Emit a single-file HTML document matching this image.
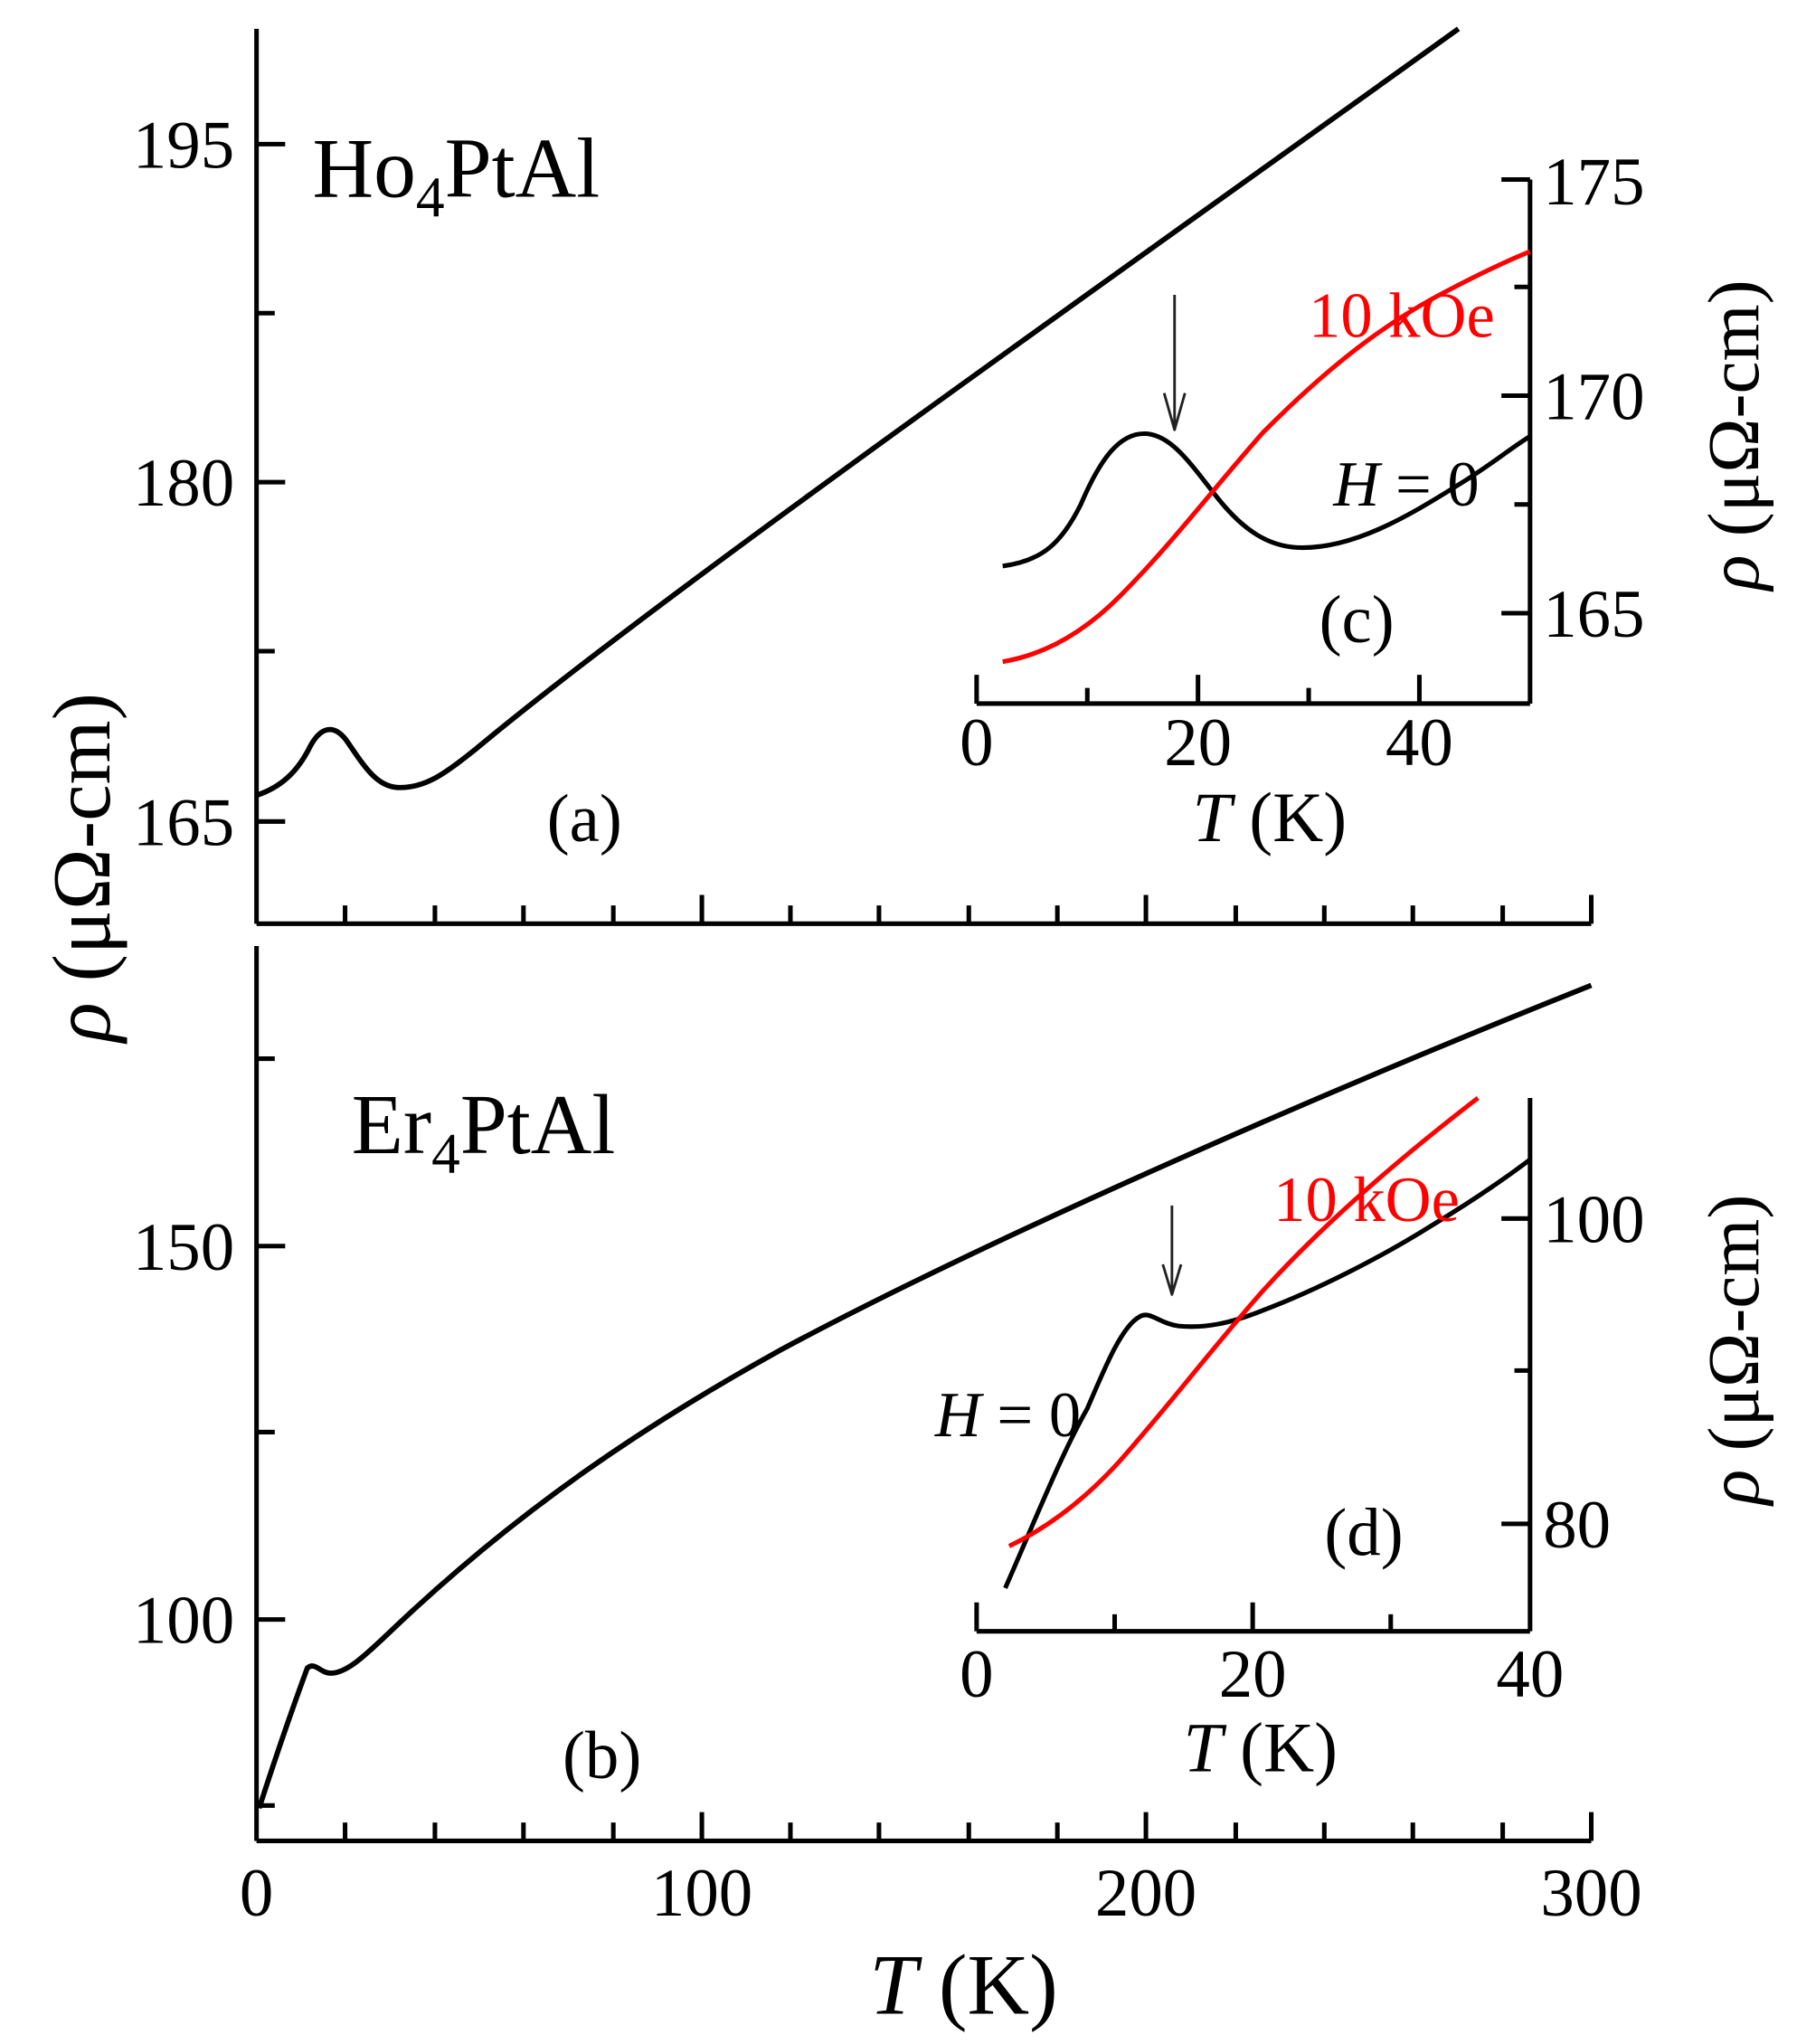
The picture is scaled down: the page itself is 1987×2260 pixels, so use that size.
<!DOCTYPE html>
<html><head><meta charset="utf-8"><style>
html,body{margin:0;padding:0;background:#fff;}
svg{display:block;}
text{font-family:"Liberation Serif","DejaVu Serif",serif;}
</style></head><body>
<svg width="1987" height="2260" viewBox="0 0 1380 1560" preserveAspectRatio="none" xmlns="http://www.w3.org/2000/svg">
<g stroke="#000" stroke-width="3.5" fill="none" stroke-linejoin="round">
<line x1="197" y1="22" x2="197" y2="705"/>
<line x1="197" y1="705" x2="1222" y2="705"/>
<line x1="1222" y1="683" x2="1222" y2="705"/>
<line x1="197" y1="722" x2="197" y2="1405"/>
<line x1="197" y1="1405" x2="1222" y2="1405"/>
<line x1="1222" y1="1383" x2="1222" y2="1405"/>
<path d="M197 110H219M197 239H211M197 368H219M197 497H211M197 627H219"/>
<path d="M197 808H211M197 951H219M197 1093H211M197 1236H219M197 1378H211"/>
<path d="M539 705V683M880 705V683M265 705V691M334 705V691M402 705V691M471 705V691M607 705V691M675 705V691M744 705V691M812 705V691M949 705V691M1017 705V691M1085 705V691M1154 705V691"/>
<path d="M539 1405V1383M880 1405V1383M265 1405V1391M334 1405V1391M402 1405V1391M471 1405V1391M607 1405V1391M675 1405V1391M744 1405V1391M812 1405V1391M949 1405V1391M1017 1405V1391M1085 1405V1391M1154 1405V1391"/>
<path stroke-width="4" d="M197 607 C215 601 228 590 238 570 C246 555 256 552 266 565 C278 582 288 600 305 601 C325 602 340 592 365 572 C500 460 800 250 1120 22"/>
<path stroke-width="4" d="M199 1380 C212 1340 226 1300 236 1273 C242 1268 246 1277 254 1277 C266 1277 280 1264 300 1245 C400 1150 500 1085 600 1030 C750 950 1000 840 1222 752"/>
<line x1="750" y1="537" x2="1175" y2="537"/>
<line x1="1175" y1="137" x2="1175" y2="537"/>
<path d="M750 537V515M920 537V515M1090 537V515M835 537V525M1005 537V525M1175 137H1153M1175 302H1153M1175 468H1153M1175 219H1163M1175 385H1163"/>
<path stroke-width="3.5" d="M770 432 C800 428 815 415 830 385 C845 350 860 330 880 331 C900 332 915 355 935 380 C955 405 975 418 1000 418 C1040 418 1080 395 1120 370 C1145 355 1160 342 1175 333"/>
<path stroke="#f00" stroke-width="3.5" d="M770 505 C800 500 830 485 860 455 C900 415 930 375 970 330 C1020 280 1060 250 1100 228 C1130 212 1155 200 1175 192"/>
<path stroke="#222" stroke-width="2" d="M902 225V328M894 300L902 328L910 300"/>
<line x1="750" y1="1245" x2="1175" y2="1245"/>
<line x1="1175" y1="838" x2="1175" y2="1245"/>
<path d="M750 1245V1223M962 1245V1223M856 1245V1232M1068 1245V1232M1175 930H1153M1175 1163H1153M1175 1046H1163"/>
<path stroke-width="3.5" d="M772 1212 C795 1160 815 1110 835 1075 C850 1040 862 1012 875 1005 C883 1000 890 1010 905 1012 C925 1014 945 1010 970 1000 C1010 985 1060 960 1100 935 C1130 917 1155 900 1175 885"/>
<path stroke="#f00" stroke-width="3.5" d="M775 1180 C800 1168 830 1148 860 1115 C900 1070 930 1030 970 985 C1020 930 1080 880 1135 838"/>
<path stroke="#222" stroke-width="2" d="M900 920V988M893 965L900 988L907 965"/>
</g>
<g font-size="52" fill="#000">
<text x="180" y="128" text-anchor="end">195</text>
<text x="180" y="386" text-anchor="end">180</text>
<text x="180" y="645" text-anchor="end">165</text>
<text x="180" y="969" text-anchor="end">150</text>
<text x="180" y="1254" text-anchor="end">100</text>
<text x="197" y="1462" text-anchor="middle">0</text>
<text x="539" y="1462" text-anchor="middle">100</text>
<text x="880" y="1462" text-anchor="middle">200</text>
<text x="1222" y="1462" text-anchor="middle">300</text>
<text x="740" y="1537" text-anchor="middle" font-size="66"><tspan font-style="italic">T</tspan> (K)</text>
<text x="240" y="150" font-size="65">Ho<tspan font-size="44" dy="15">4</tspan><tspan dy="-15">PtAl</tspan></text>
<text x="270" y="880" font-size="65">Er<tspan font-size="44" dy="15">4</tspan><tspan dy="-15">PtAl</tspan></text>
<text x="420" y="642" font-size="52">(a)</text>
<text x="432" y="1357" font-size="52">(b)</text>
<text transform="translate(84 662) rotate(-90)" text-anchor="middle" font-size="63"><tspan font-style="italic">ρ</tspan> (μΩ-cm)</text>
<text x="1185" y="156">175</text>
<text x="1185" y="320">170</text>
<text x="1185" y="486">165</text>
<text x="750" y="584" text-anchor="middle">0</text>
<text x="920" y="584" text-anchor="middle">20</text>
<text x="1090" y="584" text-anchor="middle">40</text>
<text x="975" y="642" text-anchor="middle" font-size="54"><tspan font-style="italic">T</tspan> (K)</text>
<text x="1005" y="257" fill="#f00" font-size="49">10 kOe</text>
<text x="1024" y="386" font-size="49"><tspan font-style="italic">H</tspan> = 0</text>
<text x="1013" y="490" font-size="52">(c)</text>
<text transform="translate(1350 332) rotate(-90)" text-anchor="middle" font-size="56"><tspan font-style="italic">ρ</tspan> (μΩ-cm)</text>
<text x="1185" y="948">100</text>
<text x="1185" y="1181">80</text>
<text x="750" y="1295" text-anchor="middle">0</text>
<text x="962" y="1295" text-anchor="middle">20</text>
<text x="1175" y="1295" text-anchor="middle">40</text>
<text x="968" y="1352" text-anchor="middle" font-size="54"><tspan font-style="italic">T</tspan> (K)</text>
<text x="978" y="932" fill="#f00" font-size="49">10 kOe</text>
<text x="718" y="1096" font-size="49"><tspan font-style="italic">H</tspan> = 0</text>
<text x="1017" y="1187" font-size="52">(d)</text>
<text transform="translate(1350 1030) rotate(-90)" text-anchor="middle" font-size="56"><tspan font-style="italic">ρ</tspan> (μΩ-cm)</text>
</g>
</svg>
</body></html>
